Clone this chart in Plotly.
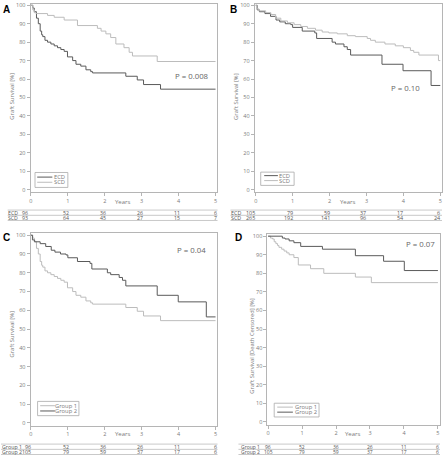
import plotly.graph_objects as go

W, H = 444, 457
DARK = "#5a5a5a"
LIGHT = "#bcbcbc"
AXC = "#b5b5b5"
TXT = "#7a7a7a"
TAB = "#555555"
FONT = "Open Sans"

# ---------------- data ----------------
years = [0, 1, 2, 3, 4, 5]
ytick_vals = [0, 10, 20, 30, 40, 50, 60, 70, 80, 90, 100]

# Panel A / C(group 1): ECD, n=96
ecd_a_t = [0, 0.05, 0.09, 0.15, 0.2, 0.25, 0.29, 0.32, 0.38, 0.45, 0.54, 0.63, 0.72, 0.81, 0.9, 0.99,
           1.13, 1.22, 1.35, 1.49, 1.62, 1.67, 2.57, 2.88, 3.05, 3.51, 5.0]
ecd_a_s = [100, 98.5, 96.5, 93, 90, 86, 84, 83, 81, 80, 79, 78, 77, 76, 75, 72,
           70, 68, 67, 65, 64, 63.3, 61.5, 59.5, 57, 54.5, 54.5]
# Panel A: SCD, n=93
scd_a_t = [0, 0.05, 0.09, 0.14, 0.45, 0.63, 0.9, 1.26, 1.8, 1.9, 2.03, 2.16, 2.3, 2.52, 2.66, 2.75, 3.42, 5.0]
scd_a_s = [100, 97.5, 96, 95.5, 94.5, 93.5, 92, 89, 87.5, 86, 84.5, 82.5, 79, 77, 74.5, 72.5, 69.5, 69.5]

# Panel B / C(group 2): ECD, n=105
ecd_b_t = [0, 0.04, 0.1, 0.25, 0.4, 0.55, 0.65, 0.8, 0.95, 1.0, 1.26, 1.6, 1.65, 2.07, 2.16, 2.39, 2.48, 2.57,
           3.42, 3.99, 4.75, 5.0]
ecd_b_s = [100, 97.5, 96.5, 95.5, 94, 92, 91, 90, 89.5, 88, 86, 85, 82, 80, 79, 77.5, 76, 73,
           68, 64.5, 56.5, 56.5]
# Panel B: SCD, n=265
scd_b_t = [0, 0.03, 0.09, 0.27, 0.41, 0.54, 0.68, 0.86, 1.04, 1.22, 1.4, 1.62, 1.8, 1.98, 2.21, 2.48, 2.7,
           3.02, 3.11, 3.24, 3.5, 3.78, 4.0, 4.19, 4.28, 4.42, 4.95, 5.0]
scd_b_s = [100, 98, 97, 96, 95, 93, 91.5, 90.5, 89.5, 88.5, 87.5, 86.5, 85.5, 85, 84.5, 83.5, 83,
           82, 81, 80, 79, 78, 77, 75.5, 74.5, 73, 70, 70]

# Panel D (death censored)
grp1_d_t = [0, 0.07, 0.13, 0.18, 0.23, 0.28, 0.32, 0.4, 0.47, 0.55, 0.62, 0.76, 0.89, 1.25, 1.64, 2.57, 3.04, 5.0]
grp1_d_s = [100, 99, 98.5, 97, 96, 95, 94, 93, 92, 91, 90, 88.5, 84.5, 82.5, 80, 78, 75, 75]
grp2_d_t = [0, 0.42, 0.5, 0.62, 0.76, 0.96, 1.6, 2.57, 3.4, 4.01, 5.0]
grp2_d_s = [100, 99, 98.5, 97.5, 96.5, 94.5, 93, 89.5, 86.5, 81.5, 81.5]

# numbers at risk
risk_ecd_a = [96, 52, 36, 26, 11, 6]
risk_scd_a = [93, 64, 45, 27, 15, 7]
risk_ecd_b = [105, 79, 59, 37, 17, 6]
risk_scd_b = [265, 192, 141, 96, 54, 24]
risk_grp1 = [96, 52, 36, 26, 11, 6]
risk_grp2 = [105, 79, 59, 37, 17, 6]

p_values = ["P = 0.008", "P = 0.10", "P = 0.04", "P = 0.07"]


def px(x):
    return x / W


def py(y):
    return 1 - y / H


panels = [
    dict(letter="A", letter_xy=(1.5, 1.5), xdom=(29.6, 216.9), xr=(-0.011, 5.051), ydom=(1.7, 191.7), yr=(-1.29, 100.86),
         series=[(ecd_a_t, ecd_a_s, DARK, "ECD"), (scd_a_t, scd_a_s, LIGHT, "SCD")],
         ytitle="Graft Survival [%]", ytitle_xy=(11.5, 95), years_y=202,
         p=p_values[0], p_xy=(4.35, 61.5),
         legend=dict(box=(0.11, 1.0, 1.2, 9.3), rows=[6.8, 4.0], line=(0.17, 0.58), tx=0.95),
         risk_rows=[("ECD", risk_ecd_a), ("SCD", risk_scd_a)], risk_y=[212.7, 217.9], risk_lines=[209.9, 215.2, 220.4],
         risk_x=(6.7, 217), label_x=6.5, first_shift=-2, col_anchor="right", col_shift=2, tabfont=5.2),
    dict(letter="B", letter_xy=(228.5, 1.5), xdom=(254.3, 442), xr=(-0.027, 5.046), ydom=(1.7, 191.7), yr=(-1.29, 100.86),
         series=[(ecd_b_t, ecd_b_s, DARK, "ECD"), (scd_b_t, scd_b_s, LIGHT, "SCD")],
         ytitle="Graft Survival [%]", ytitle_xy=(235.3, 95), years_y=202,
         p=p_values[1], p_xy=(4.05, 55.2),
         legend=dict(box=(0.135, 1.04, 2.3, 9.5), rows=[7.6, 4.9], line=(0.23, 0.6), tx=0.96),
         risk_rows=[("ECD", risk_ecd_b), ("SCD", risk_scd_b)], risk_y=[212.7, 217.9], risk_lines=[209.9, 215.2, 220.4],
         risk_x=(230, 442), label_x=230.0, first_shift=0, col_anchor="right", col_shift=1, tabfont=5.4),
    dict(letter="C", letter_xy=(1.5, 231), xdom=(29.6, 216.9), xr=(-0.011, 5.051), ydom=(233, 427.3), yr=(-1.37, 101.2),
         series=[(ecd_a_t, ecd_a_s, LIGHT, "Group 1"), (ecd_b_t, ecd_b_s, DARK, "Group 2")],
         ytitle="Graft Survival [%]", ytitle_xy=(11.5, 335), years_y=435.5,
         p=p_values[2], p_xy=(4.35, 91.9),
         legend=dict(box=(0.18, 1.3, 3.9, 11.5), rows=[9.2, 6.4], line=(0.25, 0.65), tx=1.27),
         risk_rows=[("Group 1", risk_grp1), ("Group 2", risk_grp2)], risk_y=[448.6, 453.8], risk_lines=[446, 451.3, 456.5],
         risk_x=(0, 217), label_x=0.3, first_shift=1, col_anchor="right", col_shift=2, tabfont=5.3),
    dict(letter="D", letter_xy=(234, 231), xdom=(267, 440.3), xr=(-0.02, 5.07), ydom=(234, 426.3), yr=(-1.39, 101.2),
         series=[(grp1_d_t, grp1_d_s, LIGHT, "Group 1"), (grp2_d_t, grp2_d_s, DARK, "Group 2")],
         ytitle="Graft Survival [Death Censored] [%]", ytitle_xy=(251.3, 347), years_y=435.5,
         p=p_values[3], p_xy=(4.5, 95.6),
         legend=dict(box=(0.18, 1.5, 2.7, 10.1), rows=[8.0, 5.3], line=(0.27, 0.73), tx=1.47),
         risk_rows=[("Group 1", risk_grp1), ("Group 2", risk_grp2)], risk_y=[448.6, 453.8], risk_lines=[446, 451.3, 456.5],
         risk_x=(238, 440), label_x=239.5, first_shift=0, col_anchor="center", col_shift=0, tabfont=5.0),
]

fig = go.Figure()
annotations = []
shapes = []
layout = {}

for i, p in enumerate(panels):
    n = "" if i == 0 else str(i + 1)
    xa, ya = "x" + n, "y" + n
    for t, s, col, name in p["series"]:
        fig.add_trace(go.Scatter(x=t, y=s, mode="lines", line=dict(color=col, width=1, shape="hv"),
                                 name=name, showlegend=False, xaxis=xa, yaxis=ya, hoverinfo="skip"))
    axcommon = dict(showgrid=False, zeroline=False, showline=True, mirror=True, linecolor=AXC, linewidth=1,
                    ticks="outside", ticklen=3, tickwidth=1, tickcolor=AXC,
                    tickfont=dict(family=FONT, size=5.5, color=TXT), fixedrange=True)
    layout["xaxis" + n] = dict(axcommon, domain=[px(p["xdom"][0]), px(p["xdom"][1])], range=list(p["xr"]),
                               anchor=ya, tickvals=years, ticktext=[str(v) for v in years])
    layout["yaxis" + n] = dict(axcommon, domain=[py(p["ydom"][1]), py(p["ydom"][0])], range=list(p["yr"]),
                               anchor=xa, tickvals=ytick_vals, ticktext=[str(v) for v in ytick_vals])

    # panel letter
    annotations.append(dict(text="<b>%s</b>" % p["letter"], x=px(p["letter_xy"][0]), y=py(p["letter_xy"][1]),
                            xref="paper", yref="paper", xanchor="left", yanchor="top", showarrow=False,
                            borderpad=0, font=dict(family="Liberation Sans", size=10, color="black")))
    # y title
    annotations.append(dict(text=p["ytitle"], x=px(p["ytitle_xy"][0]), y=py(p["ytitle_xy"][1]), xref="paper",
                            yref="paper", textangle=-90, showarrow=False, xanchor="center", yanchor="middle",
                            borderpad=0, font=dict(family=FONT, size=5.8, color=TXT)))
    # Years
    annotations.append(dict(text="Years", x=2.5, y=py(p["years_y"]), xref=xa, yref="paper", showarrow=False,
                            xanchor="center", yanchor="middle", borderpad=0,
                            font=dict(family=FONT, size=6, color=TXT)))
    # P value
    annotations.append(dict(text=p["p"], x=p["p_xy"][0], y=p["p_xy"][1], xref=xa, yref=ya, showarrow=False,
                            xanchor="center", yanchor="middle", borderpad=0,
                            font=dict(family=FONT, size=7.8, color="#666666")))
    # legend box
    lg = p["legend"]
    x0, x1, y0, y1 = lg["box"]
    shapes.append(dict(type="rect", xref=xa, yref=ya, x0=x0, x1=x1, y0=y0, y1=y1,
                       line=dict(color="#aaaaaa", width=0.8), fillcolor="white", layer="above"))
    for (t, s, col, name), ry in zip(p["series"], lg["rows"]):
        shapes.append(dict(type="line", xref=xa, yref=ya, x0=lg["line"][0], x1=lg["line"][1], y0=ry, y1=ry,
                           line=dict(color=col, width=1), layer="above"))
        annotations.append(dict(text=name, x=lg["tx"], y=ry, xref=xa, yref=ya, showarrow=False,
                                xanchor="right", yanchor="middle", borderpad=0,
                                font=dict(family=FONT, size=5.8, color=TXT)))
    # risk table
    for ly in p["risk_lines"]:
        shapes.append(dict(type="line", xref="paper", yref="paper", x0=px(p["risk_x"][0]), x1=px(p["risk_x"][1]),
                           y0=py(ly), y1=py(ly), line=dict(color="#bbbbbb", width=0.8)))
    for (lab, vals), ry in zip(p["risk_rows"], p["risk_y"]):
        annotations.append(dict(text=lab, x=px(p["label_x"]), y=py(ry), xref="paper", yref="paper", showarrow=False,
                                xanchor="left", yanchor="middle", borderpad=0,
                                font=dict(family=FONT, size=p["tabfont"], color=TAB)))
        for k, (yr_, v) in enumerate(zip(years, vals)):
            if k == 0:
                anchor, shift = ("right", p["first_shift"]) if p["col_anchor"] == "right" else ("center", 0)
            else:
                anchor, shift = p["col_anchor"], p["col_shift"]
            annotations.append(dict(text=str(v), x=yr_, y=py(ry), xref=xa, yref="paper", showarrow=False,
                                    xanchor=anchor, xshift=shift, yanchor="middle", borderpad=0,
                                    font=dict(family=FONT, size=p["tabfont"], color=TAB)))

fig.update_layout(width=W, height=H, margin=dict(l=0, r=0, t=0, b=0), paper_bgcolor="white",
                  plot_bgcolor="white", showlegend=False, annotations=annotations, shapes=shapes, **layout)

fig.write_html("out.html", config={"displayModeBar": False},
               post_script="document.body.style.margin='0';document.body.style.padding='0';")
